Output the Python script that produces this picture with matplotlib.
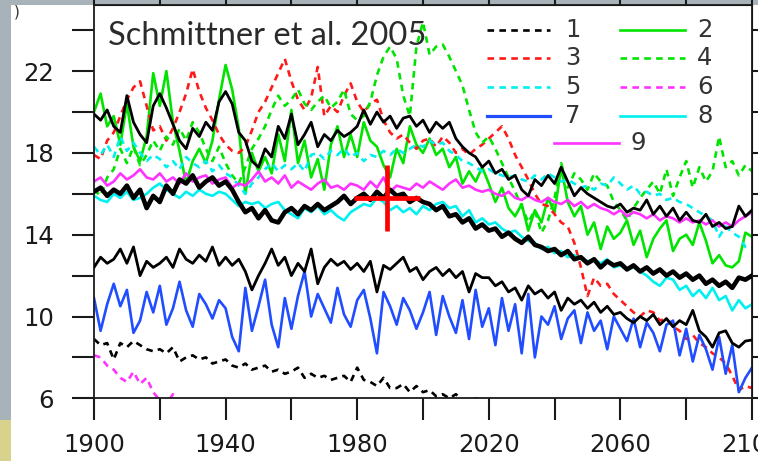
import numpy as np
import matplotlib
matplotlib.use("Agg")
import matplotlib.pyplot as plt
from matplotlib.patches import Rectangle
from matplotlib.ticker import MultipleLocator, FuncFormatter

# ---- data (2-year steps) ----
years = np.arange(1900, 2101, 2)

# 1: black dashed (1900-2020)
run1 = [8.9, 8.6, 8.7, 7.9, 8.7, 8.5, 8.8, 8.6, 8.4, 8.3,
        8.4, 8.2, 8.5, 7.8, 8.0, 8.1, 7.9, 8.0, 7.7, 7.8,
        7.9, 7.6, 7.5, 7.7, 7.4, 7.5, 7.6, 7.3, 7.4, 7.2,
        7.3, 7.5, 7.0, 7.2, 7.0, 7.1, 6.9, 7.0, 7.1, 6.8,
        7.5, 6.9, 6.8, 6.6, 7.0, 6.5, 6.5, 6.7, 6.3, 6.6,
        6.3, 6.4, 6.1, 6.2, 6.0, 6.2, 5.9, 5.8, 6.0, 5.7,
        5.6]
# 2: green solid
run2 = [20.0, 20.9, 19.3, 19.8, 18.4, 20.4, 18.3, 17.6, 18.8, 21.9,
        20.3, 22.0, 19.5, 18.1, 16.5, 17.6, 18.2, 17.5, 18.6, 20.6,
        22.3, 21.1, 19.2, 16.0, 18.0, 17.1, 17.8, 17.0, 18.9, 17.6,
        20.1, 17.5, 18.6, 16.8, 17.7, 16.2, 18.4, 19.3, 17.8, 18.9,
        17.8, 19.5, 18.6, 18.3, 17.4, 16.8, 18.2, 17.5, 19.3, 18.4,
        18.0, 18.7, 17.9, 18.2, 17.3, 17.8, 16.5, 17.1, 16.6, 17.3,
        16.5, 15.6, 16.3, 15.3, 14.9, 15.5, 14.2, 15.2, 14.6, 15.8,
        15.1, 17.3, 15.6, 14.9, 15.4, 14.0, 14.6, 13.3, 14.4, 13.8,
        14.1, 14.7, 13.5, 14.2, 12.9, 13.8, 14.3, 14.7, 13.2, 13.8,
        14.0, 13.5, 14.6, 13.7, 12.6, 13.0, 12.5, 12.4, 12.7, 14.1,
        13.9]
# 3: red dashed
run3 = [17.9, 17.7, 18.6, 19.0, 19.8, 20.6, 21.2, 21.5, 20.3, 19.1,
        19.3, 18.6, 19.2, 20.0, 20.9, 22.1, 21.0, 20.2, 19.6, 18.9,
        18.4, 18.1, 18.0, 18.3, 19.1, 20.0, 20.5, 21.2, 21.9, 22.6,
        21.5, 20.6, 20.1, 20.7, 22.2, 19.8, 20.3, 20.0, 20.8, 21.4,
        20.5, 20.0, 20.4, 20.6, 19.6, 19.0, 18.7, 18.9, 18.5, 18.2,
        18.6, 18.7, 18.3, 18.8, 18.5, 18.0, 18.2, 17.9, 18.2, 18.4,
        18.7, 19.0, 19.3, 18.7, 17.9, 17.3, 16.7, 16.0, 15.5, 15.4,
        15.0, 14.6, 14.4, 13.6, 12.4, 11.0, 11.9, 11.5, 11.6, 11.1,
        10.8, 10.5, 10.2, 10.0, 10.3, 10.2, 9.8, 9.9, 9.5, 9.3,
        8.9, 9.1, 8.7, 8.5, 8.2, 8.0, 7.7, 7.1, 6.4, 6.6,
        6.5]
# 4: green dashed
run4 = [16.2, 15.9, 16.8, 17.2, 18.2, 17.5, 18.3, 17.4, 17.9, 18.6,
        18.1, 18.8, 18.4, 19.2, 18.6, 19.5, 19.0, 18.2, 17.6, 18.3,
        17.5, 16.9, 16.5, 17.3, 18.2, 18.7, 19.3, 20.1, 20.8, 20.3,
        20.6, 21.1, 20.4, 20.1, 20.5, 20.8, 20.2, 20.5, 21.1, 19.9,
        19.6, 19.8, 20.5, 21.8, 22.7, 23.2, 22.6, 20.8, 19.8, 23.2,
        24.4, 22.8, 23.2, 23.3, 22.7, 22.0, 21.3, 20.1, 19.0, 18.5,
        18.8, 18.2, 17.5, 16.8, 16.1, 15.4, 14.6, 15.2, 14.1, 14.7,
        15.8, 17.5, 16.3, 17.0, 16.7, 16.2, 17.0, 16.6, 16.4, 15.6,
        15.2, 14.7, 15.3, 15.8, 16.2, 16.6, 16.0, 17.2, 15.9, 16.8,
        17.6, 16.3, 17.3, 16.6, 17.1, 18.8, 17.3, 17.6, 16.9, 17.4,
        17.1]
# 5: cyan dashed
run5 = [18.3, 17.9, 18.4, 17.8, 18.8, 18.1, 18.5, 18.0, 17.6, 17.9,
        17.7, 17.3, 17.6, 17.2, 17.8, 17.5, 17.3, 17.6, 17.1, 17.4,
        17.0, 16.8, 16.4, 16.0, 16.5, 16.8, 17.2, 17.5, 17.1, 17.4,
        17.2, 17.5, 17.1, 17.9, 18.0, 17.7, 18.1, 17.9, 18.2, 17.8,
        18.0, 17.6, 17.9, 17.8, 18.1, 17.9, 18.2, 18.0, 18.2, 18.4,
        18.3, 18.6, 18.4, 18.5, 18.1, 17.9, 17.6, 17.5, 17.3, 17.1,
        17.2, 17.0, 16.9, 16.8, 16.9, 16.7, 16.6, 16.9, 16.7, 17.0,
        16.8, 16.6, 16.7, 16.5, 16.3, 16.4, 16.2, 16.5, 16.4, 16.8,
        16.5, 16.2, 16.4, 16.0, 16.1, 15.9, 16.0, 15.7, 15.8, 15.6,
        15.5, 15.3, 15.1, 14.9, 14.7, 13.9, 14.4, 14.1, 13.9, 13.4,
        13.3]
# 6: magenta dashed (1900-1926)
run6 = [8.1, 8.0, 7.6, 7.4, 7.0, 6.8, 7.3, 6.7, 7.0, 6.3, 5.9, 5.7, 6.2, 5.6]
# 7: blue solid
run7 = [10.9, 9.3, 10.6, 11.6, 10.5, 11.3, 9.2, 9.8, 11.2, 10.2,
        11.5, 9.6, 10.4, 11.7, 10.3, 9.5, 11.1, 10.6, 9.9, 10.8,
        10.4, 9.0, 8.3, 11.4, 9.3, 10.5, 11.8, 9.6, 8.5, 10.9,
        9.4, 11.0, 12.2, 10.0, 11.1, 10.4, 9.7, 11.4, 10.1, 9.5,
        10.8, 11.3, 9.9, 8.2, 11.2, 10.5, 9.6, 10.9, 10.3, 9.4,
        10.2, 11.2, 9.1, 11.0, 10.0, 9.2, 10.8, 8.9, 11.3, 9.5,
        10.4, 8.6, 10.9, 9.3, 10.6, 8.2, 11.1, 8.0, 10.0, 9.6,
        10.5, 8.9, 9.9, 10.3, 8.7, 10.2, 9.3, 9.8, 8.4, 10.0,
        9.4, 8.8, 9.9, 8.5, 9.7, 9.2, 8.3, 9.6, 9.8, 8.1,
        9.4, 7.8, 9.1, 8.4, 7.4, 9.0, 7.2, 8.6, 6.3, 7.0,
        7.5]
# 8: cyan solid
run8 = [15.9, 15.7, 15.6, 16.0, 15.8, 16.1, 15.7, 15.8, 16.0, 16.3,
        16.5, 16.2, 16.0, 15.8, 16.1, 15.9, 16.2, 16.0, 15.9, 16.1,
        16.0, 15.7, 15.4, 15.6, 15.5, 15.6, 15.3, 15.5, 15.6, 15.2,
        15.0, 14.8, 15.3, 15.1, 15.4, 15.0, 15.2, 14.9, 14.7, 15.1,
        15.3, 15.5, 15.4, 15.8, 15.6, 15.2, 15.4, 15.1, 15.3, 15.0,
        15.4, 15.2, 15.5, 15.6, 15.3, 15.4, 14.9, 15.2, 14.6, 14.8,
        14.5, 14.6, 14.3, 14.1, 14.2, 13.9, 13.7, 13.6, 13.3, 13.4,
        13.1, 13.2, 12.9, 13.0, 12.8, 12.7, 12.8, 12.6, 12.8, 12.4,
        12.5, 12.3, 12.4, 12.2, 12.0, 11.7, 11.5, 11.9, 11.8, 11.3,
        11.5, 11.0, 11.3, 10.9, 11.4, 10.8, 11.0, 10.3, 10.8, 10.4,
        10.6]
# 9: magenta solid
run9 = [16.6, 16.8, 16.4, 16.6, 17.0, 16.7, 16.9, 17.2, 16.8, 16.7,
        17.0, 16.6, 16.8, 16.5, 17.0, 16.6, 16.8, 16.9, 16.5, 16.7,
        16.8, 16.3, 16.5, 16.4, 16.7, 17.1, 16.6, 16.8, 16.5, 16.9,
        16.3, 16.6, 16.4, 16.2, 16.5, 16.7, 16.3, 16.4, 16.2, 16.5,
        16.4, 16.2, 16.6, 16.3, 16.8, 16.1, 16.4, 16.3, 16.2, 16.5,
        16.3, 16.6, 16.4, 16.2, 16.5, 16.7, 16.3, 16.4, 16.2, 16.1,
        16.2, 16.0, 15.9, 16.1, 15.8, 15.7, 15.9, 15.7, 15.6, 15.8,
        15.6, 15.5, 15.7, 15.4, 15.6, 15.3, 15.5, 15.3, 15.2, 15.0,
        15.2, 14.9, 15.1, 15.0, 14.8, 15.0, 14.7, 14.9, 14.8, 14.6,
        14.8, 14.6, 14.7, 14.5, 14.7, 14.4, 14.6, 14.4, 14.7, 14.9,
        15.1]

# unlabeled black curves
black_upper = [19.9, 19.6, 20.1, 19.3, 19.0, 20.8, 19.5, 18.9, 18.5, 20.3,
               20.9, 20.2, 19.4, 18.6, 18.2, 19.2, 18.8, 19.5, 19.1, 20.5,
               21.0, 20.4, 19.0, 18.6, 17.6, 17.3, 18.2, 17.8, 19.3, 18.7,
               19.9, 18.4, 18.9, 19.5, 18.3, 18.9, 18.6, 19.1, 18.8, 19.0,
               19.3, 20.1, 19.4, 20.0, 19.5, 19.8, 19.2, 19.7, 19.8, 19.3,
               19.6, 19.0, 19.5, 19.2, 19.5, 18.7, 18.3, 18.0, 17.8, 17.3,
               17.6, 17.0, 17.2, 16.7, 16.9, 16.2, 15.9, 16.7, 16.4, 16.9,
               16.5, 17.3, 16.6, 15.9, 16.3, 16.0, 15.8, 15.6, 15.4, 15.3,
               15.5, 15.1, 15.3, 15.2, 15.7, 15.0, 15.4, 14.9, 15.3, 14.7,
               15.1, 14.7, 14.6, 15.0, 14.4, 14.6, 14.3, 14.4, 15.4, 14.9,
               15.2]
black_mean = [16.1, 16.3, 15.9, 16.2, 16.0, 16.4, 15.8, 16.2, 15.3, 15.9,
              15.6, 16.4, 16.0, 16.7, 16.5, 16.9, 16.3, 16.6, 16.8, 16.4,
              16.6, 16.2, 15.6, 15.1, 15.3, 14.8, 15.2, 14.7, 14.6, 15.1,
              15.3, 15.0, 15.4, 15.2, 15.5, 15.2, 15.4, 15.6, 15.9, 15.5,
              15.8, 16.0, 15.7, 16.1, 15.8, 16.2, 15.9, 16.0, 15.6, 15.8,
              15.6, 15.5, 15.2, 15.4, 14.9, 15.0, 14.6, 14.8, 14.3, 14.5,
              14.2, 14.3, 13.9, 14.1, 13.8, 13.6, 13.9, 13.5, 13.4, 13.2,
              13.3, 13.0, 13.2, 12.8, 12.9, 12.6, 12.8, 12.4, 12.7, 12.5,
              12.6, 12.3, 12.5, 12.2, 12.4, 12.1, 12.3, 12.0, 12.2, 11.9,
              12.1, 11.8, 12.0, 11.6, 11.8, 11.5, 11.7, 11.4, 11.9, 11.8,
              12.0]
black_lower = [12.4, 12.9, 12.6, 12.8, 13.3, 12.6, 13.4, 12.0, 12.7, 12.4,
               12.6, 12.9, 12.4, 13.3, 12.8, 12.6, 13.0, 12.7, 13.4, 12.5,
               12.9, 12.5, 12.8, 12.2, 11.3, 12.0, 12.6, 13.3, 12.5, 12.9,
               12.0, 12.6, 12.2, 13.3, 11.6, 12.4, 12.8, 12.5, 12.7, 12.3,
               12.6, 12.2, 12.7, 11.2, 12.5, 12.3, 12.6, 12.9, 12.2, 12.4,
               11.8, 12.2, 12.4, 12.0, 12.3, 11.9, 12.2, 11.2, 12.1, 11.9,
               11.9, 11.5, 11.7, 11.2, 11.4, 10.8, 11.5, 11.1, 11.3, 10.9,
               11.2, 10.3, 10.9, 10.6, 10.8, 10.4, 10.7, 10.2, 10.5, 10.1,
               10.2, 9.9, 9.7, 10.0, 9.8, 10.1, 9.6, 9.9, 9.5, 9.8,
               9.6, 10.3, 9.3, 9.0, 8.5, 9.2, 9.3, 8.7, 8.5, 8.8,
               8.85]

# observation with error cross
obs_year, obs_val = 1989, 15.8
obs_xerr, obs_yerr = 10, 1.6

labels = ["1", "2", "3", "4", "5", "6", "7", "8", "9"]
colors = ["black", "#00e400", "#ff1a1a", "#00e400", "#00f0f0",
          "#ff33ff", "#1f4dff", "#00f0f0", "#ff33ff"]
dashed = [True, False, True, True, True, True, False, False, False]
runs = [run1, run2, run3, run4, run5, run6, run7, run8, run9]

W, H = 758, 461
fig = plt.figure(figsize=(W / 100, H / 100), dpi=100)
fig.patch.set_facecolor("white")

# slide background bits around the pasted chart
for (x0, y0, w, h, c) in [(0, 41, 11, 420, "#a7b3b8"), (0, 0, 11, 41, "#d8d38c"),
                          (0, 456, W, 5, "#a7b3b8")]:
    fig.add_artist(Rectangle((x0 / W, y0 / H), w / W, h / H, transform=fig.transFigure,
                             facecolor=c, edgecolor="none", zorder=-1))

ax_l, ax_r, ax_b, ax_t = 94, 752, 398.3, 5
ax = fig.add_axes([ax_l / W, (H - ax_b) / H, (ax_r - ax_l) / W, (ax_b - ax_t) / H])
ax.set_xlim(1900, 2100)
ax.set_ylim(6, 6 + (ax_b - ax_t) / 20.45)

dash = (0, (2.5, 2.0))
for r, c, d in zip(runs, colors, dashed):
    ax.plot(years[:len(r)], r, color=c, lw=1.9, ls=dash if d else "-", zorder=2)

ax.plot(years, black_upper, color="black", lw=2.0, zorder=3)
ax.plot(years, black_lower, color="black", lw=2.0, zorder=3)
ax.plot(years, black_mean, color="black", lw=3.3, zorder=4)

ax.errorbar(obs_year, obs_val, xerr=obs_xerr, yerr=obs_yerr, fmt="none",
            ecolor="#ff0000", elinewidth=3.4, capsize=0, zorder=5)

# ticks
ax.xaxis.set_major_locator(MultipleLocator(20))
ax.yaxis.set_major_locator(MultipleLocator(2))
ax.xaxis.set_major_formatter(FuncFormatter(lambda v, p: f"{v:.0f}" if round(v - 1900) % 40 == 0 else ""))
ax.yaxis.set_major_formatter(FuncFormatter(lambda v, p: f"{v:.0f}" if round(v - 6) % 4 == 0 else ""))
ax.tick_params(axis="x", direction="out", length=16, width=1.5, labelsize=17.5, pad=9,
               colors="#1a1a1a")
ax.tick_params(axis="y", direction="out", length=16, width=1.5, labelsize=17.5, pad=13,
               colors="#1a1a1a")
for s in ax.spines.values():
    s.set_linewidth(1.3)
    s.set_color("#1a1a1a")

top = ax.secondary_xaxis("top")
top.xaxis.set_major_locator(MultipleLocator(20))
top.tick_params(direction="out", length=4, width=1.5, labeltop=False, colors="#1a1a1a")
right = ax.secondary_yaxis("right")
right.yaxis.set_major_locator(MultipleLocator(2))
right.tick_params(direction="out", length=6, width=1.5, labelright=False, colors="#1a1a1a")

# title
ax.text((108 - ax_l) / (ax_r - ax_l), (ax_b - 45) / (ax_b - ax_t), "Schmittner et al. 2005",
        transform=ax.transAxes, fontsize=23.5, family="Lato", color="#2b2b2b",
        va="baseline", ha="left", zorder=6)

# legend, drawn by hand to match the 2+2+2+2+1 layout
def px(x, y):
    return (x - ax_l) / (ax_r - ax_l), (ax_b - y) / (ax_b - ax_t)

rows = [30, 58, 87, 116]
slots = [(487, 550, 565, rows[i // 2]) if i % 2 == 0 else (620, 685, 697, rows[i // 2])
         for i in range(8)]
slots.append((554, 619, 630, 143))
for lab, c, d, (x0, x1, xt, y) in zip(labels, colors, dashed, slots):
    a0, b0 = px(x0, y)
    a1, _ = px(x1, y)
    ax.plot([a0, a1], [b0, b0], transform=ax.transAxes, color=c,
            lw=2.3 if lab == "7" else 1.9, ls=dash if d else "-", zorder=6)
    ax.text(px(xt, y)[0], b0, lab, transform=ax.transAxes, fontsize=17.5,
            color="#333333", va="center", ha="left", zorder=6)

fig.text(14 / W, 1 - 12 / H, ")", fontsize=11, color="#333333", va="center")

fig.savefig("out.png", dpi=100, facecolor=fig.get_facecolor())
